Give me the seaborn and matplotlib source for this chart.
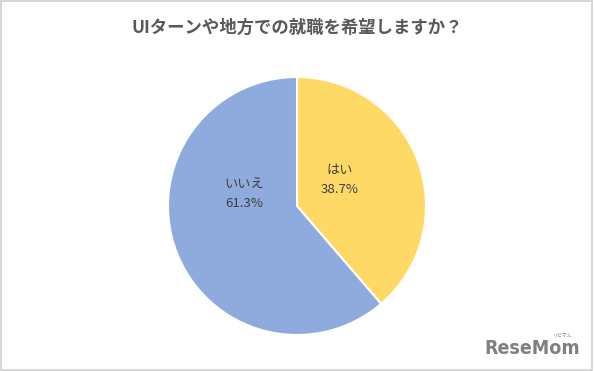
import matplotlib
matplotlib.use("Agg")
import matplotlib.pyplot as plt
import seaborn as sns
import numpy as np
from matplotlib.patches import Rectangle

sns.set_theme(style="white")
plt.rcParams['font.family'] = ['Noto Sans CJK JP', 'DejaVu Sans']

title = "UIターンや地方での就職を希望しますか？"
categories = ["はい", "いいえ"]
values = [38.7, 61.3]
colors = ["#FFD966", "#8FAADC"]

fig = plt.figure(figsize=(5.94, 3.71), dpi=100)
fig.patch.set_facecolor("white")

# pie axes: center (297,206), radius ~129 px
W, H = 594, 371
cx, cy, r = 297, 206, 129
ax = fig.add_axes([(cx - r) / W, 1 - (cy + r) / H, 2 * r / W, 2 * r / H])
wedges, _ = ax.pie(values, colors=colors, startangle=90, counterclock=False,
                   wedgeprops=dict(edgecolor="white", linewidth=1.5), radius=1.0)
ax.set_xlim(-1, 1)
ax.set_ylim(-1, 1)
ax.set_aspect("equal")
ax.axis("off")

label_pos = [(0.33, 0.20), (-0.41, 0.09)]
for cat, v, (x, y) in zip(categories, values, label_pos):
    ax.text(x, y, f"{cat}\n{v:.1f}%", ha="center", va="center",
            fontsize=9.5, color="#404040", linespacing=1.6)

fig.text(0.5, 1 - 28 / H, title, ha="center", va="center", fontsize=12.5,
         fontweight="bold", color="#595959")

# watermark
fig.text(1 - 14 / W, 1 - 349 / H, "ReseMom", ha="right", va="center",
         fontsize=14, fontweight="bold", color="#808080", family=["DejaVu Sans"],
         fontstretch="condensed")
fig.text(1 - 22 / W, 1 - 335 / H, "リセマム", ha="right", va="center",
         fontsize=3.5, color="#808080")

# border
fig.patches.append(Rectangle((0.002, 0.003), 0.995, 0.994, transform=fig.transFigure,
                             fill=False, edgecolor="#d0d0d0", linewidth=1.2))

fig.savefig("out.png", dpi=100, facecolor="white")
